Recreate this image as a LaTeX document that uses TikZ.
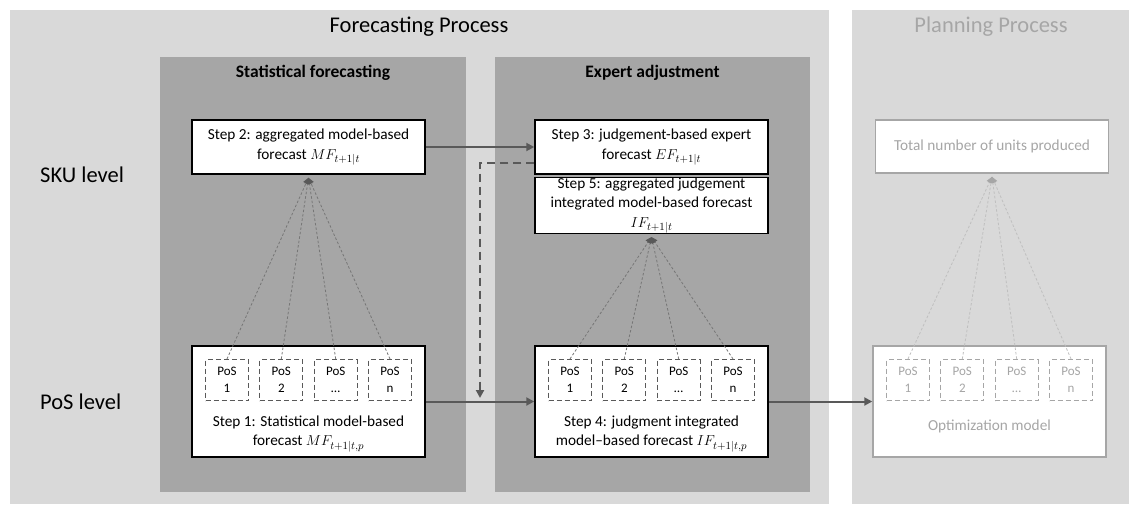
\documentclass[tikz,border=0pt]{standalone}
\usepackage{fontspec}
\setmainfont{Carlito}
\usetikzlibrary{arrows.meta,calc,positioning}

\definecolor{panellight}{HTML}{D9D9D9}
\definecolor{paneldark}{HTML}{A6A6A6}
\definecolor{linkgray}{HTML}{595959}
\definecolor{dotgray}{HTML}{767676}
\definecolor{fadegray}{HTML}{A6A6A6}
\definecolor{fadeline}{HTML}{BFBFBF}

\tikzset{
  stepbox/.style={draw=black, line width=1.5pt, fill=white, inner sep=0pt,
    minimum width=233pt, align=center, font=\fontsize{15.3}{19.5}\selectfont},
  bigbox/.style={draw=black, line width=1.5pt, fill=white, inner sep=0pt,
    minimum width=233pt, minimum height=111pt},
  steptext/.style={align=center, inner sep=0pt, font=\fontsize{15.3}{19}\selectfont},
  posbox/.style={draw=linkgray, line width=1.2pt, dash pattern=on 5pt off 3pt,
    minimum width=43pt, minimum height=41pt, inner sep=0pt, align=center,
    font=\fontsize{13}{17}\selectfont},
  fadepos/.style={posbox, draw=fadegray, text=fadegray},
  flow/.style={draw=linkgray, line width=2pt, -{Triangle[length=8pt,width=8pt]}},
  feedback/.style={draw=linkgray, line width=2pt, dash pattern=on 8pt off 5pt,
    -{Triangle[length=8pt,width=8pt]}},
  agg/.style={draw=dotgray, line width=0.8pt, dash pattern=on 2.5pt off 2pt,
    -{Triangle[length=6pt,width=6pt,color=linkgray]}},
  fadeagg/.style={draw=fadeline, line width=0.8pt, dash pattern=on 2.5pt off 2pt,
    -{Triangle[length=6pt,width=6pt,color=fadegray]}},
  headline/.style={font=\fontsize{22.5}{26}\selectfont, inner sep=0pt},
  coltitle/.style={font=\fontsize{17.5}{20}\selectfont\bfseries, inner sep=0pt},
  levellabel/.style={font=\fontsize{22.5}{26}\selectfont, inner sep=0pt, anchor=west},
}

\begin{document}
\begin{tikzpicture}[x=1pt,y=-1pt]
\useasboundingbox (0,0) rectangle (1129,504);

% background panels
\fill[panellight] (10,10) rectangle (829,504);
\fill[panellight] (852,10) rectangle (1129,504);
\fill[paneldark] (160,57) rectangle (466,492);
\fill[paneldark] (495,57) rectangle (810,492);

% panel titles
\node[headline] (fctitle) at (419,27) {Forecasting Process};
\node[headline, text=fadegray] (pltitle) at (991,27) {Planning Process};
\node[coltitle] (sftitle) at (313,73) {Statistical forecasting};
\node[coltitle] (eatitle) at (652.5,73) {Expert adjustment};

% level labels
\node[levellabel] (sku) at (40,175) {SKU level};
\node[levellabel] (pos) at (40,402) {PoS level};

% SKU level boxes
\node[stepbox, minimum height=54pt] (s2) at (308.5,147)
  {Step 2: aggregated model-based\\forecast $MF_{t+1|t}$};
\node[stepbox, minimum height=54pt] (s3) at (651.5,147)
  {Step 3: judgement-based expert\\forecast $EF_{t+1|t}$};
\node[stepbox, minimum height=55pt] (s5) at (651.5,205.5)
  {Step 5: aggregated judgement\\integrated model-based forecast\\$IF_{t+1|t}$};
\node[stepbox, minimum height=53pt, draw=fadegray, text=fadegray] (tot) at (992,146.5)
  {Total number of units produced};

% PoS level boxes
\node[bigbox] (s1) at (308.5,401.5) {};
\node[bigbox] (s4) at (651.5,401.5) {};
\node[bigbox, draw=fadegray] (opt) at (989.5,401.5) {};

\node[steptext] (s1txt) at (308.5,434)
  {Step 1: Statistical model-based\\forecast $MF_{t+1|t,p}$};
\node[steptext] (s4txt) at (651.5,434)
  {Step 4: judgment integrated\\model–based forecast $IF_{t+1|t,p}$};
\node[steptext, text=fadegray] (opttxt) at (989.5,426)
  {Optimization model};

% PoS cells inside the lower boxes
\foreach \b/\sty in {s1/posbox, s4/posbox, opt/fadepos}{
  \foreach \k/\dx/\lab in {1/-81.5/1, 2/-27.2/2, 3/27.2/…, 4/81.5/n}{
    \node[\sty] (\b p\k) at ($(\b.center)+(\dx,-21.5)$) {PoS\\\lab};
  }
}

% aggregation tips just below the SKU boxes
\coordinate (s2tip) at ($(s2.south)+(0,3)$);
\coordinate (s5tip) at ($(s5.south)+(0,3)$);
\coordinate (tottip) at ($(tot.south)+(0,3)$);

\foreach \k in {1,2,3,4}{
  \draw[agg] (s1p\k.north) -- (s2tip);
  \draw[agg] (s4p\k.north) -- (s5tip);
  \draw[fadeagg] (optp\k.north) -- (tottip);
}

% flows between the steps
\draw[flow] (s2.east) -- (s3.west);
\draw[flow] (s1.east) -- (s4.west);
\draw[flow] (s4.east) -- (opt.west);

% expert feedback into the PoS level
\coordinate (s3fb) at ($(s3.south west)+(0,-12)$);
\coordinate (fb) at (480,398);
\draw[feedback] (s3fb) -| (fb);
\end{tikzpicture}
\end{document}
